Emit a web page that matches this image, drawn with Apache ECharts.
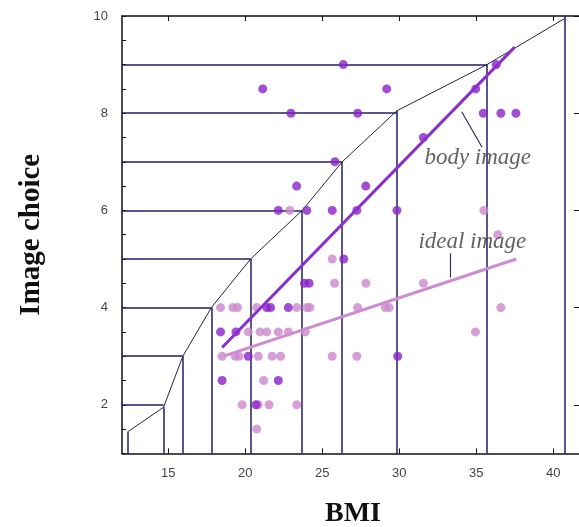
<!DOCTYPE html>
<html>
<head>
<meta charset="utf-8">
<script src="https://cdn.jsdelivr.net/npm/echarts@6/dist/echarts.min.js"></script>
<style>
html,body{margin:0;padding:0;background:#fff;}
#chart{width:579px;height:527px;}
</style>
</head>
<body>
<div id="chart"></div>
<script>
// ---- data ----
const xTicks = [15, 20, 25, 30, 35, 40];
const yTicks = [2, 4, 6, 8, 10];
// figure rating scale steps: BMI at which each image is placed
const stepBMI   = [12.4, 14.7, 15.95, 17.8, 20.35, 23.7, 26.3, 29.85, 35.7, 40.75];
const stepImage = [1.45, 1.95, 3, 4, 5, 6, 7, 8.05, 9, 9.95];
const levelImage = [2, 3, 4, 5, 6, 7, 8, 9];
const levelBMI   = [14.7, 15.95, 17.8, 20.35, 23.7, 26.3, 29.85, 35.7];
// body image choices (BMI, image)
const bodyBMI   = [26.37, 36.3, 21.14, 29.19, 34.97, 22.97, 27.3, 35.46, 36.6, 37.58, 31.57, 25.83, 23.34, 27.83,
                   22.15, 24.0, 25.65, 27.25, 29.85, 26.4, 23.85, 24.15, 21.4, 21.65, 22.8, 18.4, 19.4, 20.2,
                   18.5, 22.15, 20.7, 29.9];
const bodyImage = [9, 9, 8.5, 8.5, 8.5, 8, 8, 8, 8, 8, 7.5, 7, 6.5, 6.5,
                   6, 6, 6, 6, 6, 5, 4.5, 4.5, 4, 4, 4, 3.5, 3.5, 3,
                   2.5, 2.5, 2, 3];
// ideal image choices (BMI, image)
const idealBMI   = [22.9, 35.5, 36.4, 25.65, 25.8, 27.84, 31.57,
                    18.4, 19.2, 19.5, 20.75, 23.35, 24.0, 24.2, 27.3, 29.1, 29.35, 36.6,
                    20.2, 20.96, 21.4, 22.15, 22.8, 23.9, 34.95,
                    18.5, 19.35, 19.6, 20.85, 21.75, 22.3, 25.65, 27.25,
                    21.2, 19.8, 20.85, 21.55, 23.35, 20.75];
const idealImage = [6, 6, 5.5, 5, 4.5, 4.5, 4.5,
                    4, 4, 4, 4, 4, 4, 4, 4, 4, 4, 4,
                    3.5, 3.5, 3.5, 3.5, 3.5, 3.5, 3.5,
                    3, 3, 3, 3, 3, 3, 3, 3,
                    2.5, 2, 2, 2, 2, 1.5];
// fitted lines (endpoints)
const bodyFitBMI = [18.5, 37.5];
const bodyFitImage = [3.18, 9.36];
const idealFitBMI = [18.6, 37.6];
const idealFitImage = [3.0, 5.0];
// annotations
const annoText = ['body image', 'ideal image'];
const annoBMI = [35.1, 34.75];
const annoImage = [7.08, 5.36];
const leaderBMI = [[34.06, 35.38], [33.3, 33.3]];
const leaderImage = [[8.03, 7.30], [5.12, 4.62]];

const X_MIN = 12, X_MAX = 42, Y_MIN = 1, Y_MAX = 10;

// ---- build ----
const navy = '#1f1f66';
const hSegs = levelImage.map((k, i) => ({coords: [[X_MIN, k], [levelBMI[i], k]]}));
const vSegs = stepBMI.map((b, i) => ({coords: [[b, Y_MIN], [b, i === stepBMI.length - 1 ? Y_MAX : stepImage[i]]]}));
const curve = stepBMI.map((b, i) => [b, stepImage[i]]);
const bodyPts = bodyBMI.map((b, i) => [b, bodyImage[i]]);
const idealPts = idealBMI.map((b, i) => [b, idealImage[i]]);
const leaders = leaderBMI.map((xs, i) => ({coords: [[xs[0], leaderImage[i][0]], [xs[1], leaderImage[i][1]]]}));
const annos = annoText.map((t, i) => ({value: [annoBMI[i], annoImage[i]], name: t}));

const chart = echarts.init(document.getElementById('chart'), null, {renderer: 'canvas'});
chart.setOption({
  animation: false,
  backgroundColor: '#ffffff',
  grid: {left: 122, top: 16, width: 462, height: 437.4, containLabel: false, outerBoundsMode: 'none'},
  xAxis: [{
    type: 'value', min: X_MIN, max: X_MAX, position: 'bottom',
    name: 'BMI', nameLocation: 'middle', nameGap: 46,
    nameTextStyle: {fontFamily: 'Liberation Serif', fontWeight: 'bold', fontSize: 28, color: '#111'},
    axisLine: {show: true, lineStyle: {color: '#111', width: 1.5}},
    axisTick: {show: true, inside: true, length: 5, customValues: xTicks, lineStyle: {color: '#111'}},
    axisLabel: {customValues: xTicks, fontFamily: 'Liberation Sans', fontSize: 13, color: '#444', margin: 14},
    splitLine: {show: false}
  }, {
    type: 'value', min: X_MIN, max: X_MAX, position: 'top',
    axisLine: {show: true, lineStyle: {color: '#111', width: 1.5}},
    axisTick: {show: true, inside: true, length: 5, customValues: xTicks, lineStyle: {color: '#111'}},
    axisLabel: {show: false},
    splitLine: {show: false}
  }],
  yAxis: [{
    type: 'value', min: Y_MIN, max: Y_MAX, interval: 0.5, position: 'left',
    name: 'Image choice', nameLocation: 'middle', nameGap: 76, nameRotate: 90,
    nameTextStyle: {fontFamily: 'Liberation Serif', fontWeight: 'bold', fontSize: 29, color: '#111'},
    axisLine: {show: true, lineStyle: {color: '#111', width: 1.5}},
    axisTick: {show: true, inside: true, length: 4, lineStyle: {color: '#111'}},
    axisLabel: {customValues: yTicks, fontFamily: 'Liberation Sans', fontSize: 13, color: '#444', margin: 14},
    splitLine: {show: false}
  }, {
    type: 'value', min: Y_MIN, max: Y_MAX, position: 'right',
    axisLine: {show: true, lineStyle: {color: '#111', width: 1.5}},
    axisTick: {show: true, inside: true, length: 10, customValues: yTicks, lineStyle: {color: '#111'}},
    axisLabel: {show: false},
    splitLine: {show: false}
  }],
  series: [
    {type: 'lines', coordinateSystem: 'cartesian2d', data: hSegs, silent: true,
     lineStyle: {color: navy, width: 1.5, opacity: 1}, z: 1},
    {type: 'lines', coordinateSystem: 'cartesian2d', data: vSegs, silent: true,
     lineStyle: {color: navy, width: 1.5, opacity: 1}, z: 1},
    {type: 'line', data: curve, symbol: 'none', silent: true,
     lineStyle: {color: '#22224a', width: 1}, z: 1},
    {type: 'scatter', name: 'ideal', data: idealPts, symbol: 'circle', symbolSize: 9,
     itemStyle: {color: '#cc88cc'}, z: 3},
    {type: 'scatter', name: 'body', data: bodyPts, symbol: 'circle', symbolSize: 9,
     itemStyle: {color: '#8a22c8'}, z: 4},
    {type: 'line', data: idealFitBMI.map((b, i) => [b, idealFitImage[i]]), symbol: 'none', silent: true,
     lineStyle: {color: '#cf8ad0', width: 3}, z: 5},
    {type: 'line', data: bodyFitBMI.map((b, i) => [b, bodyFitImage[i]]), symbol: 'none', silent: true,
     lineStyle: {color: '#8b2fcc', width: 3}, z: 5},
    {type: 'lines', coordinateSystem: 'cartesian2d', data: leaders, silent: true,
     lineStyle: {color: '#333355', width: 1.2, opacity: 1}, z: 6},
    {type: 'scatter', data: annos, symbolSize: 0, silent: true, z: 7,
     label: {show: true, position: 'inside', formatter: p => p.name,
             fontFamily: 'Liberation Serif', fontStyle: 'italic', fontSize: 23, color: '#3a3a3a'}}
  ]
});
</script>
</body>
</html>
